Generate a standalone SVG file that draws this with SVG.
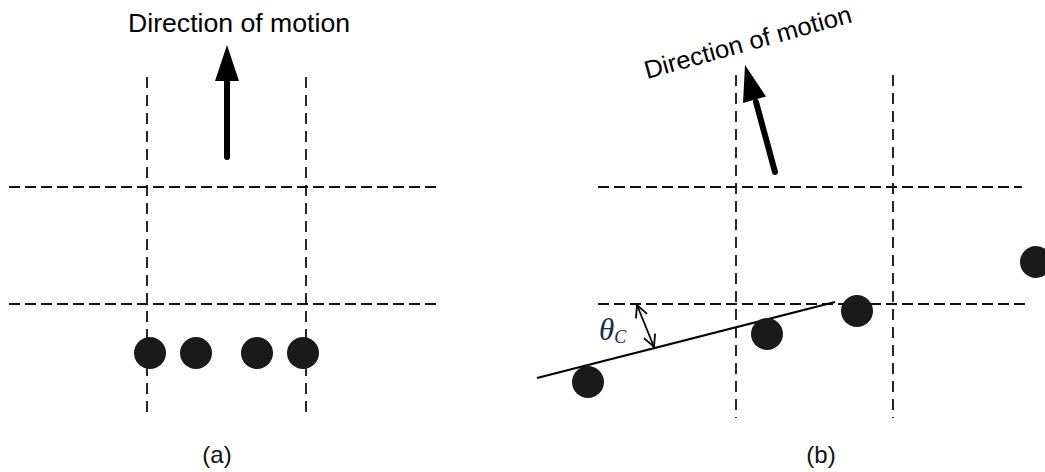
<svg xmlns="http://www.w3.org/2000/svg" width="1045" height="472" viewBox="0 0 1045 472">
<style>
.hd{stroke:#111;stroke-width:1.8;stroke-dasharray:11 5;fill:none}
.vd{stroke:#111;stroke-width:1.8;stroke-dasharray:11 7;fill:none}
.dot{fill:#1a1a1a}
.lbl{font-family:"Liberation Sans",Arial,sans-serif;font-size:26px;fill:#000}
.cap{font-family:"Liberation Sans",Arial,sans-serif;font-size:24px;fill:#111}
.shaft{stroke:#000;stroke-width:6;stroke-linecap:round;fill:none}
</style>
<defs>
<marker id="oa" viewBox="0 0 14 14" refX="13" refY="7" markerWidth="14" markerHeight="14" markerUnits="userSpaceOnUse" orient="auto-start-reverse">
<path d="M1,1 L13,7 L1,13" fill="none" stroke="#000" stroke-width="1.8"/>
</marker>
</defs>
<rect width="1045" height="472" fill="#fff"/>
<g id="panel-a">
<g id="grid-a">
<line class="hd" x1="9" y1="187" x2="437" y2="187"/>
<line class="hd" x1="9" y1="304" x2="437" y2="304"/>
<line class="vd" x1="147" y1="77" x2="147" y2="418"/>
<line class="vd" x1="306" y1="77" x2="306" y2="418"/>
</g>
<g id="arrow-a">
<line class="shaft" x1="227" y1="157" x2="227" y2="78"/>
<polygon points="227,45 215,81 239,81" fill="#000"/>
</g>
<text id="label-dir-a" class="lbl" x="128" y="32" textLength="222" lengthAdjust="spacingAndGlyphs">Direction of motion</text>
<g id="dots-a">
<circle class="dot" cx="150" cy="353" r="16"/>
<circle class="dot" cx="196" cy="353" r="16"/>
<circle class="dot" cx="257" cy="353" r="16"/>
<circle class="dot" cx="303" cy="353" r="16"/>
</g>
<text id="cap-a" class="cap" x="217" y="463" text-anchor="middle">(a)</text>
</g>
<g id="panel-b">
<g id="grid-b">
<line class="hd" x1="598" y1="187" x2="1022" y2="187"/>
<line class="hd" x1="598" y1="304" x2="1025" y2="304"/>
<line class="vd" x1="736" y1="75" x2="736" y2="418"/>
<line class="vd" x1="893" y1="75" x2="893" y2="418"/>
</g>
<g id="arrow-b">
<line class="shaft" x1="775" y1="172" x2="756" y2="102"/>
<polygon points="745,65 766,96.5 743,103" fill="#000"/>
</g>
<text id="label-dir-b" class="lbl" style="font-size:25px" x="647" y="79" transform="rotate(-15.5 647 79)" textLength="214" lengthAdjust="spacingAndGlyphs">Direction of motion</text>
<g id="fit-line">
<line x1="537" y1="378" x2="835" y2="302" stroke="#000" stroke-width="2"/>
</g>
<g id="angle">
<line x1="637" y1="305" x2="654" y2="347" stroke="#000" stroke-width="1.8" marker-start="url(#oa)" marker-end="url(#oa)"/>
<text x="599" y="340" font-family="'Liberation Serif','Times New Roman',serif" font-style="italic" font-size="31" fill="#1a2a50">θ<tspan font-size="18" dy="3">C</tspan></text>
</g>
<g id="dots-b">
<circle class="dot" cx="588" cy="382" r="16"/>
<circle class="dot" cx="767" cy="334" r="16"/>
<circle class="dot" cx="857" cy="311" r="16"/>
<circle class="dot" cx="1036" cy="262" r="16"/>
</g>
<text id="cap-b" class="cap" x="821" y="463" text-anchor="middle">(b)</text>
</g>
</svg>
